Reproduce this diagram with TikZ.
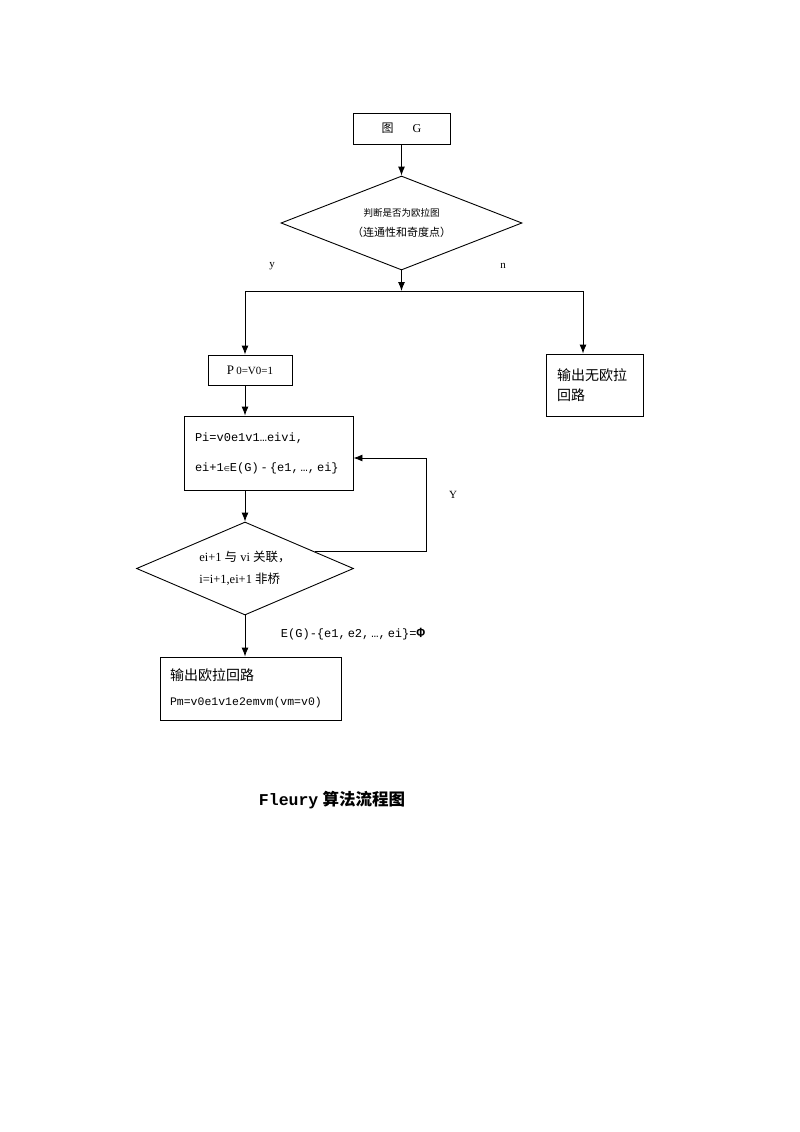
\documentclass[tikz,border=0pt]{standalone}
\usepackage{fontspec}
\setmainfont{Liberation Serif}
\setmonofont{Liberation Mono}
\newfontfamily\cjk{Noto Sans CJK SC}
\newfontfamily\symf{DejaVu Sans}
\usetikzlibrary{arrows.meta,shapes.geometric,calc}
\begin{document}
\begin{tikzpicture}[x=1pt,y=-1pt,
  line width=0.9pt,
  arr/.style={-{Latex[length=9pt,width=7pt]}},
  box/.style={draw, rectangle, inner sep=0pt},
  dia/.style={draw, diamond, inner sep=0pt},
  lbl/.style={inner sep=0pt}]
\path[use as bounding box, fill=white] (0,0) rectangle (800,1132);
% nodes
\node[box, minimum width=97pt, minimum height=31pt, font=\fontsize{12}{14}\selectfont] (g) at (401.5,128.5) {{\cjk 图}\hspace{19pt}G};
\node[dia, aspect=2.564, minimum width=241pt, minimum height=94pt, align=center, font=\cjk\fontsize{11}{20}\selectfont] (d1) at (401.5,223)
  {{\fontsize{9.5}{20}\selectfont 判断是否为欧拉图}\\（连通性和奇度点）};
\node[box, minimum width=84pt, minimum height=30pt, font=\fontsize{13}{14}\selectfont] (p0) at (250,370)
  {P\,{\fontsize{11}{12}\selectfont 0=V0=1}};
\node[box, minimum height=62pt, text width=75pt, inner xsep=11pt, align=left, font=\cjk\fontsize{14}{20}\selectfont] (ne) at (594.5,385)
  {输出无欧拉\\回路};
\node[box, minimum height=74pt, text width=147pt, inner xsep=11pt, align=left, font=\ttfamily\fontsize{12}{30}\selectfont] (pi) at (268.5,453)
  {Pi=v0e1v1…eivi,\\ei+1{\symf\fontsize{7}{8}\selectfont ∈}E(G)\,-\,\{e1,\,…,\,ei\}};
\node[dia, aspect=2.333, minimum width=217pt, minimum height=93pt, align=left, font=\fontsize{12.5}{22}\selectfont] (d2) at (245,568.5)
  {ei+1 {\cjk 与} vi {\cjk 关联，}\\i=i+1,ei+1 {\cjk 非桥}};
\node[box, minimum height=63pt, text width=161pt, inner xsep=10pt, align=left, font=\fontsize{14}{25}\selectfont] (out) at (250.5,688.5)
  {{\cjk 输出欧拉回路}\\{\ttfamily\fontsize{11.5}{25}\selectfont Pm=v0e1v1e2emvm(vm=v0)}};
% labels
\node[lbl, font=\fontsize{11}{13}\selectfont] (ly) at (272,266) {y};
\node[lbl, font=\fontsize{11}{13}\selectfont] (ln) at (503,266) {n};
\node[lbl, font=\fontsize{11}{13}\selectfont] (lY) at (453,495) {Y};
\node[lbl, font=\ttfamily\fontsize{12}{13}\selectfont] (le) at (353,634) {E(G)-\{e1,\,e2,\,…,\,ei\}={\bfseries\fontsize{14}{14}\selectfont Φ}};
\node[lbl, font=\bfseries\fontsize{16.5}{18}\selectfont] (cap) at (332,800) {{\ttfamily Fleury} {\cjk 算法流程图}};
% connectors
\coordinate (j) at (401.5,291);
\coordinate (jl) at (245,291);
\coordinate (jr) at (583,291);
\draw[arr] (g) -- (d1);
\draw[arr] (d1) -- (j);
\draw (jl) -- (jr);
\draw[arr] (jl) -- (jl |- p0.north);
\draw[arr] (jr) -- (jr |- ne.north);
\draw[arr] (jl |- p0.south) -- (jl |- pi.north);
\draw[arr] (jl |- pi.south) -- (d2.north);
\draw[arr] (d2.south) -- (d2.south |- out.north);
\coordinate (ls) at ($(d2.north)!0.645!(d2.east)$);
\coordinate (lc) at (426,458);
\draw[arr] (ls) -- (ls -| lc) -- (lc) -- (lc -| pi.east);
\end{tikzpicture}
\end{document}
